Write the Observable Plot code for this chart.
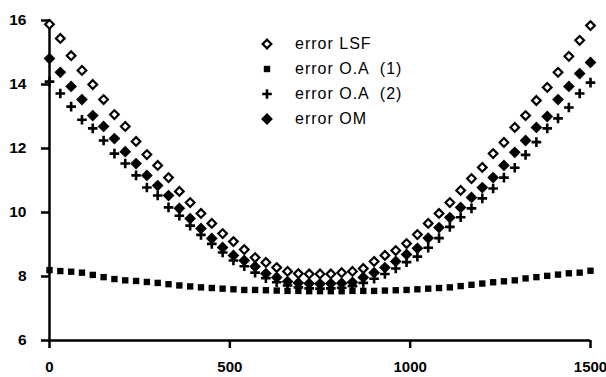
<!DOCTYPE html>
<html><head><meta charset="utf-8">
<script src="https://cdn.jsdelivr.net/npm/d3@7"></script>
<script src="https://cdn.jsdelivr.net/npm/@observablehq/plot@0.6"></script>
<style>
body{margin:0;background:#fff;}
#wrap{position:relative;width:606px;height:377px;overflow:hidden;}
#legend{position:absolute;left:257px;top:31px;font-family:"Liberation Sans",Arial,sans-serif;font-size:16px;letter-spacing:1px;color:#000;}
.row{height:25px;display:flex;align-items:center;white-space:pre;}
.row svg{width:20px;height:20px;margin-right:18px;overflow:visible;}
</style></head>
<body><div id="wrap"><div id="legend"></div></div>
<script>
const xs = [0,30,60,90,120,150,180,210,240,270,300,330,360,390,420,450,480,510,540,570,600,630,660,690,720,750,780,810,840,870,900,930,960,990,1020,1050,1080,1110,1140,1170,1200,1230,1260,1290,1320,1350,1380,1410,1440,1470,1500];
const errLSF = [15.88,15.44,14.9,14.44,14.0,13.53,13.06,12.69,12.22,11.81,11.47,11.09,10.66,10.31,9.97,9.66,9.34,9.09,8.84,8.59,8.44,8.28,8.16,8.09,8.08,8.08,8.08,8.12,8.16,8.25,8.47,8.66,8.81,9.03,9.31,9.66,9.97,10.31,10.69,11.06,11.41,11.84,12.19,12.66,13.03,13.5,13.91,14.38,14.88,15.38,15.84];
const errOA1 = [8.2,8.17,8.15,8.12,8.05,7.98,7.92,7.88,7.86,7.83,7.8,7.76,7.72,7.69,7.66,7.64,7.62,7.6,7.58,7.58,7.57,7.56,7.55,7.55,7.54,7.54,7.54,7.54,7.55,7.55,7.55,7.56,7.57,7.58,7.6,7.62,7.64,7.66,7.7,7.74,7.78,7.82,7.85,7.88,7.94,7.98,8.02,8.06,8.1,8.12,8.18];
const errOA2 = [14.09,13.72,13.31,12.9,12.63,12.25,11.84,11.53,11.16,10.78,10.53,10.16,9.9,9.59,9.3,9.02,8.75,8.5,8.32,8.12,7.95,7.82,7.72,7.66,7.63,7.62,7.63,7.65,7.7,7.8,7.93,8.08,8.25,8.45,8.62,8.9,9.2,9.55,9.85,10.13,10.44,10.75,11.09,11.4,11.8,12.2,12.63,12.94,13.28,13.72,14.06];
const errOM = [14.81,14.38,13.94,13.53,13.03,12.69,12.31,11.9,11.53,11.16,10.84,10.53,10.13,9.81,9.5,9.19,8.91,8.66,8.5,8.31,8.09,7.97,7.84,7.8,7.78,7.77,7.78,7.79,7.82,7.97,8.12,8.28,8.47,8.69,8.88,9.2,9.53,9.84,10.16,10.47,10.78,11.09,11.47,11.88,12.25,12.66,13.0,13.53,13.94,14.34,14.69];
const seriesNames = ["error LSF","error O.A  (1)","error O.A  (2)","error OM"];
const xTicks = [0,500,1000,1500];
const yTicks = [6,8,10,12,14,16];

const sty = {
  lsf:{symbol:"diamond2", r:3.9, fill:"white", stroke:"black", strokeWidth:2.2},
  oa1:{symbol:"square", r:3.6, fill:"black", stroke:"none"},
  oa2:{symbol:"plus", r:3.2, fill:"none", stroke:"black", strokeWidth:2.6},
  om:{symbol:"diamond2", r:5.3, fill:"black", stroke:"none"}
};

const plot = Plot.plot({
  width:606, height:377,
  marginLeft:49, marginRight:16, marginTop:20, marginBottom:37,
  style:{fontFamily:"'Liberation Sans', Arial, sans-serif", fontSize:"15px", fontWeight:"bold", background:"white", color:"black", overflow:"visible"},
  x:{domain:[0,1500]},
  y:{domain:[6,16]},
  marks:[
    Plot.axisX({ticks:xTicks, tickSize:8, tickPadding:13, strokeWidth:2.5, fontSize:15, tickFormat:d=>String(d), label:null}),
    Plot.axisY({ticks:yTicks, tickSize:8, tickPadding:15, strokeWidth:2.5, fontSize:15.5, tickFormat:d=>String(d), label:null}),
    Plot.ruleX([0],{strokeWidth:2.5}),
    Plot.ruleY([6],{strokeWidth:2.5}),
    Plot.dot(errOA1,{x:xs, y:errOA1, ...sty.oa1}),
    Plot.dot(errOA2,{x:xs, y:errOA2, ...sty.oa2}),
    Plot.dot(errOM,{x:xs, y:errOM, ...sty.om}),
    Plot.dot(errLSF,{x:xs, y:errLSF, ...sty.lsf})
  ]
});
document.getElementById("wrap").prepend(plot);

// legend
const symMap = {diamond2:d3.symbolDiamond2, square:d3.symbolSquare, plus:d3.symbolPlus};
const legendStyles = [sty.lsf, sty.oa1, sty.oa2, sty.om];
const leg = d3.select("#legend");
seriesNames.forEach((name,i)=>{
  const s = legendStyles[i];
  const row = leg.append("div").attr("class","row");
  const svg = row.append("svg").attr("viewBox","-10 -10 20 20");
  svg.append("path")
    .attr("d", d3.symbol(symMap[s.symbol], s.r*s.r*Math.PI)())
    .attr("fill", s.fill).attr("stroke", s.stroke).attr("stroke-width", s.strokeWidth||0);
  row.append("span").text(name);
});
</script>
</body></html>
